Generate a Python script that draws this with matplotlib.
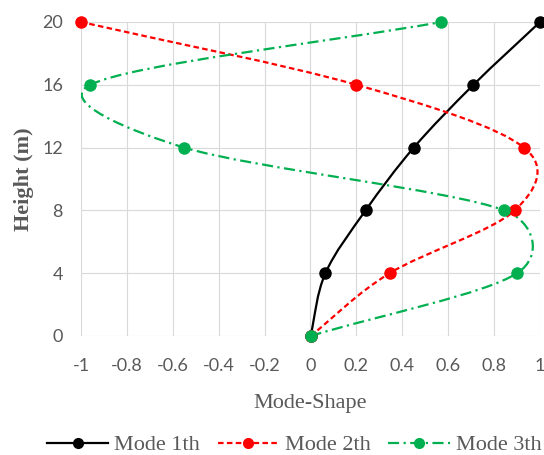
import numpy as np
import matplotlib
matplotlib.use('Agg')
import matplotlib.pyplot as plt
from matplotlib.path import Path
from matplotlib.patches import PathPatch
from matplotlib.lines import Line2D

height = [0, 4, 8, 12, 16, 20]
mode1 = [0, 0.065, 0.24, 0.45, 0.71, 1.0]
mode2 = [0, 0.345, 0.89, 0.93, 0.20, -1.0]
mode3 = [0, 0.90, 0.845, -0.55, -0.96, 0.57]
labels = ['Mode 1th', 'Mode 2th', 'Mode 3th']

grey = '#595959'
tick_font = 'Lato'
title_font = 'Liberation Serif'


def excel_smooth(ax, xs, ys):
    # excel "smoothed line": bezier segments built in pixel space,
    # control arms limited to half the segment length
    pix = ax.transData.transform(np.column_stack([xs, ys]))
    n = len(pix)
    verts = [pix[0]]
    codes = [Path.MOVETO]
    for i in range(n - 1):
        p0 = pix[i - 1] if i > 0 else pix[i]
        p1 = pix[i]
        p2 = pix[i + 1]
        p3 = pix[i + 2] if i + 2 < n else pix[i + 1]
        d02 = np.hypot(*(p2 - p0))
        d12 = np.hypot(*(p2 - p1))
        d13 = np.hypot(*(p3 - p1))
        if d02 / 6 < d12 / 2 and d13 / 6 < d12 / 2:
            f1 = 1 / 6 if i > 0 else 1 / 3
            f2 = 1 / 6 if i + 2 < n else 1 / 3
            b1 = p1 + (p2 - p0) * f1
            b2 = p2 - (p3 - p1) * f2
        elif d02 / 6 >= d12 / 2 and d13 / 6 >= d12 / 2:
            b1 = p1 + (p2 - p0) * d12 / 2 / d02
            b2 = p2 - (p3 - p1) * d12 / 2 / d13
        elif d02 / 6 >= d12 / 2:
            b1 = p1 + (p2 - p0) * d12 / 2 / d02
            b2 = p2 - (p3 - p1) * d12 / 2 / d02
        else:
            b1 = p1 + (p2 - p0) * d12 / 2 / d13
            b2 = p2 - (p3 - p1) * d12 / 2 / d13
        verts += [b1, b2, p2]
        codes += [Path.CURVE4] * 3
    verts = ax.transData.inverted().transform(np.array(verts))
    return Path(verts, codes)


fig = plt.figure(figsize=(5.44, 4.55), dpi=100)
ax = fig.add_axes([81 / 544, 1 - 336 / 455, 459 / 544, 314 / 455])
ax.set_xlim(-1, 1)
ax.set_ylim(0, 20)

styles = [
    dict(color='black', ls='-'),
    dict(color='#FF0000', ls=(0, (2.5, 1.5))),
    dict(color='#00B050', ls=(0, (5, 2, 1, 2))),
]

handles = []
for vals, st, lab in zip([mode1, mode2, mode3], styles, labels):
    patch = PathPatch(excel_smooth(ax, vals, height), facecolor='none', edgecolor=st['color'],
                      lw=1.6, linestyle=st['ls'], zorder=3)
    ax.add_patch(patch)
    ax.plot(vals, height, linestyle='none', marker='o', markersize=8,
            color=st['color'], clip_on=False, zorder=4)
    handles.append(Line2D([], [], color=st['color'], lw=1.6, linestyle=st['ls'],
                          marker='o', markersize=7, label=lab))

ax.set_xticks(np.arange(-1, 1.01, 0.2))
ax.set_yticks(np.arange(0, 21, 4))
ax.set_xticklabels(['-1', '-0.8', '-0.6', '-0.4', '-0.2', '0', '0.2', '0.4', '0.6', '0.8', '1'])
ax.grid(True, color='#d9d9d9', lw=0.8)
ax.set_axisbelow(True)
for s in ax.spines.values():
    s.set_visible(False)
ax.tick_params(length=0, labelsize=13, labelcolor=grey)
ax.tick_params(axis='x', pad=16)
ax.tick_params(axis='y', pad=13)
for t in ax.get_xticklabels() + ax.get_yticklabels():
    t.set_fontfamily(tick_font)

ax.set_xlabel('Mode-Shape', fontsize=16, color=grey, family=title_font, labelpad=14)
ax.set_ylabel('Height (m)', fontsize=16, color=grey, family=title_font,
              fontweight='bold', labelpad=6)

fig.legend(handles=handles, loc='center left', bbox_to_anchor=(36 / 544, 1 - 445 / 455),
           ncol=3, frameon=False, borderpad=0, handlelength=2.75, handletextpad=0.27,
           columnspacing=0.8, prop={'family': title_font, 'size': 16}, labelcolor=grey)

fig.savefig('out.png', dpi=100)
